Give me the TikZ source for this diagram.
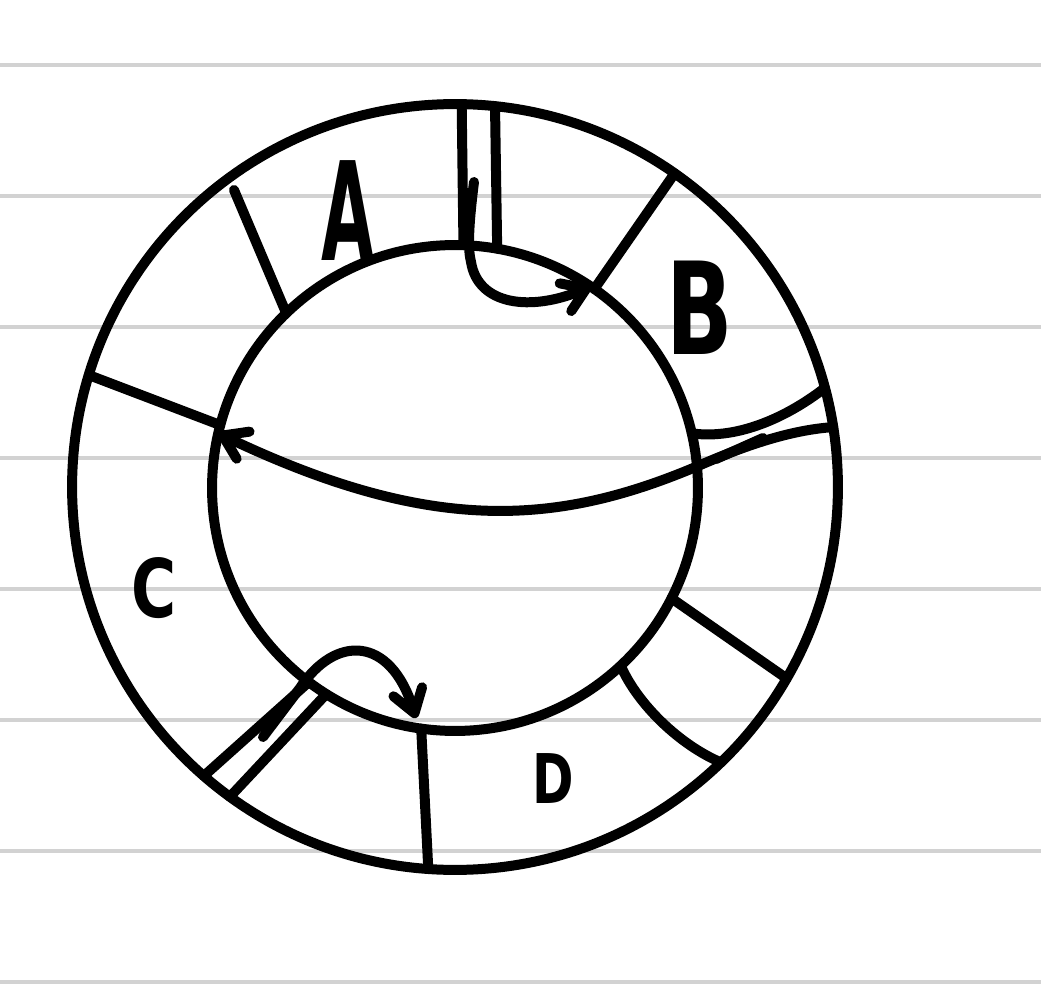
\documentclass[tikz,border=0pt]{standalone}
\usepackage{fontspec}
\setmainfont{DejaVu Sans}
\usetikzlibrary{arrows.meta}

\begin{document}
\begin{tikzpicture}[x=0.02cm, y=-0.02cm, line width=0.2cm, line cap=round, line join=round, >={Straight Barb[length=0.45cm, width=0.6cm, round]}, rule/.style={draw=gray!35, line width=0.08cm, line cap=butt}, ring/.style={draw, circle, outer sep=0pt, inner sep=0pt}, letter/.style={inner sep=0pt, font=\fontsize{#1}{#1}\selectfont\bfseries}, arrow/.style={->}]
\useasboundingbox (0,0) rectangle (1041,1000);
\foreach \y in {65,196,327,458,589,720,851,982} \draw[rule] (0,\y) -- (1041,\y);
\node[ring, minimum size=15.32cm] (outer) at (455,487) {};
\node[ring, minimum size=9.72cm] (inner) at (455,488) {};
\node[letter=78] (a) at (348,211) {\scalebox{0.5}[1]{A}};
\node[letter=73] (b) at (700,308) {\scalebox{0.68}[1]{B}};
\node[letter=46] (c) at (154,588) {\scalebox{0.76}[1]{C}};
\node[letter=39] (d) at (553,779) {\scalebox{0.73}[1]{D}};
\coordinate (atop) at (234,190); \coordinate (tin) at (474,182); \coordinate (rin) at (763,438); \coordinate (rmid) at (716,459);
\coordinate (cin) at (263,737); \coordinate (cmid) at (300,688); \coordinate (ctip) at (416,718);
\draw (inner.88.6) -- (outer.89.1); \draw (inner.80.9) -- (outer.84.7);
\draw (atop) -- (inner.134); \draw (inner.55.5) -- (outer.55.5);
\draw (inner.165.9) -- (outer.163.2); \draw (inner.-27.5) -- (outer.-30.1);
\draw (inner.-47.4) .. controls (638,705) and (680,745) .. (outer.-46.4); \draw (inner.-98.7) -- (outer.-94.1);
\draw (inner.-127.6) -- (outer.-131.5); \draw (inner.-122.7) -- (outer.-126.6);
\draw (inner.13.4) .. controls (740,440) and (790,415) .. (outer.15.3);
\draw[arrow] (tin) .. controls (468,230) and (468,250) .. (471,262) .. controls (478,305) and (530,312) .. (inner.56);
\draw[arrow] (outer.9.6) .. controls (790,430) and (745,446) .. (705,463) .. controls (562,525) and (436,537) .. (inner.167);
\draw (rin) -- (rmid);
\draw[arrow] (cin) -- (cmid) .. controls (335,635) and (390,635) .. (ctip);
\end{tikzpicture}
\end{document}
